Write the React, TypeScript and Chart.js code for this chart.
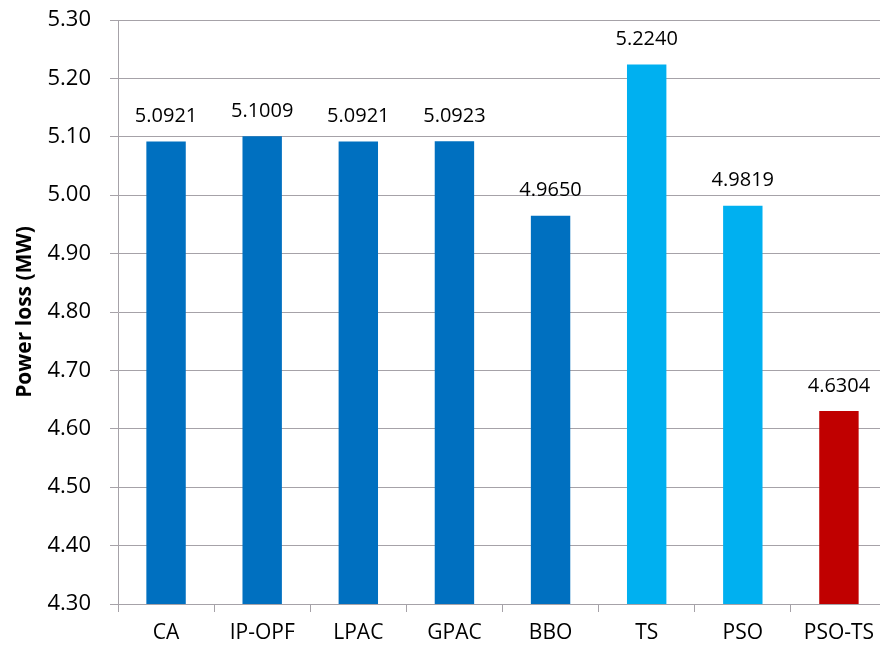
import React, { useEffect, useRef } from "react";
import { Chart, registerables } from "chart.js";

Chart.register(...registerables);

const categories = ["CA", "IP-OPF", "LPAC", "GPAC", "BBO", "TS", "PSO", "PSO-TS"];
const powerLoss = [5.0921, 5.1009, 5.0921, 5.0923, 4.965, 5.224, 4.9819, 4.6304];
const valueLabels = ["5.0921", "5.1009", "5.0921", "5.0923", "4.9650", "5.2240", "4.9819", "4.6304"];
const barColors = ["#0070C0", "#0070C0", "#0070C0", "#0070C0", "#0070C0", "#00B0F0", "#00B0F0", "#C00000"];
const yMin = 4.3;
const yMax = 5.3;
const yStep = 0.1;
const yTitle = "Power loss (MW)";

const FONT = "'Open Sans', 'Liberation Sans', sans-serif";
const GRID = "#A6A2A8";

const valueLabelPlugin = {
  id: "valueLabels",
  afterDatasetsDraw(chart: any) {
    const ctx = chart.ctx;
    const meta = chart.getDatasetMeta(0);
    ctx.save();
    ctx.font = `20px ${FONT}`;
    ctx.fillStyle = "#000000";
    ctx.textAlign = "center";
    ctx.textBaseline = "middle";
    meta.data.forEach((bar: any, i: number) => {
      ctx.fillText(valueLabels[i], bar.x, bar.y - 25);
    });
    ctx.restore();
  },
};

export default function App() {
  const ref = useRef<HTMLCanvasElement>(null);
  useEffect(() => {
    if (!ref.current) return;
    const chart = new Chart(ref.current, {
      type: "bar",
      data: {
        labels: categories,
        datasets: [
          {
            data: powerLoss,
            backgroundColor: barColors,
            barPercentage: 0.41,
            categoryPercentage: 1,
          },
        ],
      },
      options: {
        animation: false,
        responsive: false,
        maintainAspectRatio: false,
        layout: { padding: { top: 20, right: 13, left: 0, bottom: 0 } },
        plugins: { legend: { display: false }, tooltip: { enabled: false } },
        scales: {
          x: {
            offset: true,
            grid: {
              display: true,
              offset: true,
              drawOnChartArea: false,
              drawTicks: true,
              tickLength: 8,
              color: GRID,
            },
            border: { color: GRID, width: 1 },
            ticks: { color: "#000", font: { family: FONT, size: 21 }, padding: 8 },
            afterFit: (s: any) => {
              s.height = 49;
            },
          },
          y: {
            min: yMin,
            max: yMax,
            ticks: {
              stepSize: yStep,
              color: "#000",
              font: { family: FONT, size: 22 },
              padding: 19,
              callback: (v: any) => Number(v).toFixed(2),
            },
            grid: { color: GRID, tickLength: 8 },
            border: { color: GRID, width: 1 },
            title: {
              display: true,
              text: yTitle,
              color: "#000",
              font: { family: FONT, size: 21, weight: "bold" },
              padding: { top: 12, bottom: 0 },
            },
            afterFit: (s: any) => {
              s.width = 118;
              s.paddingTop = 0;
              s.paddingBottom = 0;
            },
          },
        },
      },
      plugins: [valueLabelPlugin],
    });
    return () => chart.destroy();
  }, []);
  return (
    <div style={{ position: "fixed", left: 0, top: 0, width: 880, height: 653, overflow: "hidden", background: "#fff" }}>
      <canvas ref={ref} width={900} height={653} style={{ display: "block" }} />
    </div>
  );
}
